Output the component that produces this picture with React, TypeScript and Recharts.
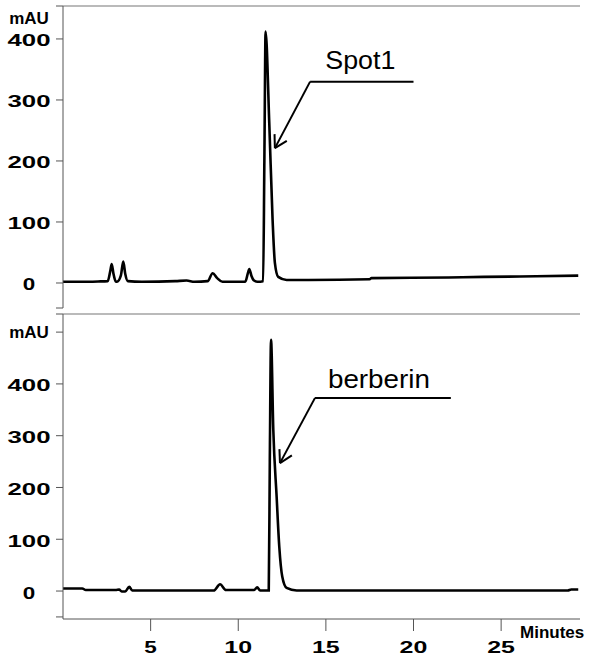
import { LineChart, Line, XAxis, YAxis, ReferenceLine } from "recharts";

const FONT = '"Liberation Sans", Arial, Helvetica, sans-serif';

// retention time (min) / absorbance (mAU)
const spotTimes = [
  0, 1, 2, 2.55, 2.7, 2.78, 2.88, 3.0, 3.08, 3.3, 3.44, 3.55, 3.7, 4.5, 6.4, 7.05, 7.5, 8.25, 8.54, 8.8,
  9.1, 10.4, 10.55, 10.63, 10.75, 10.9, 11.1, 11.42, 11.49, 11.56, 11.77, 11.96, 12.09, 12.28, 12.76, 14,
  17.5, 17.6, 22, 24, 27, 29.4,
];
const spotValues = [
  2, 2, 2.5, 3, 20, 31, 15, 3, 2, 12, 35, 15, 3, 2, 3, 4, 2, 3, 16, 8,
  2, 2, 16, 23, 12, 4, 2, 3, 200, 412, 262, 103, 33, 10, 5, 5,
  6, 8, 9, 10, 11, 12,
];

const berberinTimes = [
  0, 1.1, 1.3, 3.0, 3.2, 3.35, 3.55, 3.78, 3.95, 8.6, 8.96, 9.3, 10.9, 11.08, 11.25, 11.74, 11.8, 11.87,
  12.0, 12.19, 12.34, 12.51, 12.76, 13.33, 28.8, 29.0, 29.4,
];
const berberinValues = [
  5, 5, 2, 2, 3, -1, -1, 8, 1, 1, 13, 2, 2, 7, 1, 1, 250, 485,
  311, 182, 86, 28, 6, 1, 1, 3, 3,
];

const minuteTicks = [5, 10, 15, 20, 25];
const spotTicks = [-41, 0, 100, 200, 300, 400, 454];
const berberinTicks = [-50, 0, 100, 200, 300, 400, 500, 535];
const numberLabels = [0, 100, 200, 300, 400];

// annotation callouts in data units: [time, mAU]
const spotCallout = {
  text: "Spot1",
  width: 70,
  end: [20.0, 330],
  elbow: [14.1, 330],
  tip: [12.09, 221],
  armA: [12.07, 244],
  armB: [12.77, 233],
};
const berberinCallout = {
  text: "berberin",
  width: 102,
  end: [22.13, 373],
  elbow: [14.38, 373],
  tip: [12.38, 247],
  armA: [12.35, 274],
  armB: [13.06, 262],
};

const spotData = spotTimes.map((t, i) => ({ t, v: spotValues[i] }));
const berberinData = berberinTimes.map((t, i) => ({ t, v: berberinValues[i] }));

const stretch = (s: string) => (s.length === 1 ? 12.5 : 15.25 * s.length - 2.75);

function makeYTick(unitValue: number, unitDy: number) {
  return (props: any) => {
    const { y, payload } = props;
    const v = payload.value;
    if (v === unitValue) {
      return (
        <text x={29} y={y + unitDy} textAnchor="middle" fontFamily={FONT} fontWeight="bold" fontSize={17} fill="#000">
          mAU
        </text>
      );
    }
    if (!numberLabels.includes(v)) return <g />;
    const s = String(v);
    return (
      <text
        x={29}
        y={y + 7.5}
        textAnchor="middle"
        fontFamily={FONT}
        fontWeight="bold"
        fontSize={17}
        fill="#000"
        textLength={stretch(s)}
        lengthAdjust="spacingAndGlyphs"
      >
        {s}
      </text>
    );
  };
}

const XTick = (props: any) => {
  const { x, y, payload } = props;
  const s = String(payload.value);
  return (
    <text
      x={x}
      y={y + 20}
      textAnchor="middle"
      fontFamily={FONT}
      fontWeight="bold"
      fontSize={17}
      fill="#000"
      textLength={stretch(s)}
      lengthAdjust="spacingAndGlyphs"
    >
      {s}
    </text>
  );
};

const renderMinutes = (props: any) => {
  const vb = props.viewBox || {};
  return (
    <text x={vb.x + vb.width - 60} y={vb.y + 19} fontFamily={FONT} fontWeight="bold" fontSize={17} fill="#000">
      Minutes
    </text>
  );
};

function callout(c: typeof spotCallout, offset: number, shift: number) {
  const seg = (a: number[], b: number[]) => [
    { x: a[0], y: a[1] },
    { x: b[0], y: b[1] },
  ];
  const common = { stroke: "#000", strokeWidth: 2, ifOverflow: "visible" as const };
  const renderText = (p: any) => {
    const vb = p.viewBox || {};
    return (
      <text
        x={vb.x + vb.width / 2 + shift}
        y={vb.y - offset}
        textAnchor="middle"
        fontFamily={FONT}
        fontSize={26}
        fill="#000"
        textLength={c.width}
        lengthAdjust="spacingAndGlyphs"
      >
        {c.text}
      </text>
    );
  };
  return [
    <ReferenceLine
      key="h"
      segment={seg(c.elbow, c.end)}
      {...common}
      label={{ value: c.text, content: renderText }}
    />,
    <ReferenceLine key="d" segment={seg(c.elbow, c.tip)} {...common} />,
    <ReferenceLine key="a" segment={seg(c.tip, c.armA)} {...common} />,
    <ReferenceLine key="b" segment={seg(c.tip, c.armB)} {...common} />,
  ];
}

const axisStroke = "#555";

export default function App() {
  return (
    <div style={{ position: "absolute", left: 0, top: 0, width: 590, height: 656, background: "#fff" }}>
      <div style={{ position: "absolute", left: 0, top: 0 }}>
        <LineChart width={590} height={312} data={spotData} margin={{ top: 6, right: 10, bottom: 4, left: 0 }}>
          <XAxis type="number" dataKey="t" domain={[0, 29.5]} hide />
          <YAxis
            type="number"
            width={63}
            domain={[-41, 454]}
            ticks={spotTicks}
            interval={0}
            tickSize={7}
            axisLine={{ stroke: axisStroke }}
            tickLine={{ stroke: axisStroke }}
            tick={makeYTick(454, 18)}
          />
          <ReferenceLine y={454} stroke="#777" strokeWidth={1.2} />
          {callout(spotCallout, 13, -1.5)}
          <Line
            type="monotone"
            dataKey="v"
            stroke="#000"
            strokeWidth={2.6}
            dot={false}
            isAnimationActive={false}
          />
        </LineChart>
      </div>
      <div style={{ position: "absolute", left: 0, top: 312 }}>
        <LineChart width={590} height={344} data={berberinData} margin={{ top: 2, right: 10, bottom: 0, left: 0 }}>
          <XAxis
            type="number"
            dataKey="t"
            domain={[0, 29.5]}
            ticks={minuteTicks}
            interval={0}
            height={37}
            tickSize={12}
            axisLine={{ stroke: axisStroke }}
            tickLine={{ stroke: axisStroke }}
            tick={XTick}
            label={{ value: "Minutes", content: renderMinutes }}
          />
          <YAxis
            type="number"
            width={63}
            domain={[-54, 535]}
            ticks={berberinTicks}
            interval={0}
            tickSize={7}
            axisLine={{ stroke: axisStroke }}
            tickLine={{ stroke: axisStroke }}
            tick={makeYTick(500, 6)}
          />
          <ReferenceLine y={535} stroke="#777" strokeWidth={1.2} />
          {callout(berberinCallout, 10, -4)}
          <Line
            type="monotone"
            dataKey="v"
            stroke="#000"
            strokeWidth={2.6}
            dot={false}
            isAnimationActive={false}
          />
        </LineChart>
      </div>
    </div>
  );
}
